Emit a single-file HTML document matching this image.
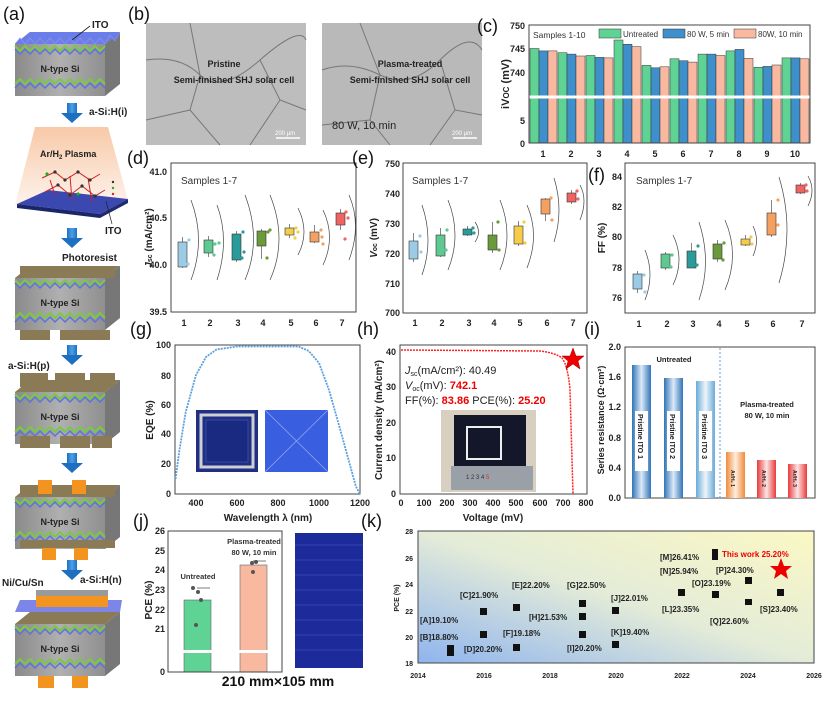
<!DOCTYPE html>
<html><head><meta charset="utf-8"><style>
html,body{margin:0;padding:0;background:#fff}
svg{display:block;font-family:"Liberation Sans",Arial,sans-serif}
.t{font-size:9px;font-weight:bold;fill:#222}
.pl{font-size:18px;fill:#111}
.ax{fill:none;stroke:#444;stroke-width:1}
</style></head><body>
<svg width="829" height="705" viewBox="0 0 829 705" xmlns="http://www.w3.org/2000/svg">
<defs>
<linearGradient id="plas" x1="0" y1="0" x2="0" y2="1"><stop offset="0" stop-color="#f8c9a8"/><stop offset="1" stop-color="#fdf3ec"/></linearGradient>
<linearGradient id="kbg" x1="0" y1="1" x2="1" y2="0"><stop offset="0" stop-color="#8fb4ee"/><stop offset="0.5" stop-color="#e4ecd8"/><stop offset="1" stop-color="#fbf8c4"/></linearGradient>
<linearGradient id="gray" x1="0" y1="0" x2="1" y2="0"><stop offset="0" stop-color="#8a8a8a"/><stop offset="0.5" stop-color="#b0b0b0"/><stop offset="1" stop-color="#8f8f8f"/></linearGradient>
<linearGradient id="bb" x1="0" y1="0" x2="1" y2="0"><stop offset="0" stop-color="#2f74b8"/><stop offset=".5" stop-color="#ddeaf7"/><stop offset="1" stop-color="#2f74b8"/></linearGradient>
<linearGradient id="bl" x1="0" y1="0" x2="1" y2="0"><stop offset="0" stop-color="#6aaad8"/><stop offset=".5" stop-color="#eef5fb"/><stop offset="1" stop-color="#6aaad8"/></linearGradient>
<linearGradient id="bo" x1="0" y1="0" x2="1" y2="0"><stop offset="0" stop-color="#f08a3a"/><stop offset=".5" stop-color="#fdeee0"/><stop offset="1" stop-color="#f08a3a"/></linearGradient>
<linearGradient id="br" x1="0" y1="0" x2="1" y2="0"><stop offset="0" stop-color="#e83a3a"/><stop offset=".5" stop-color="#fde5e5"/><stop offset="1" stop-color="#e83a3a"/></linearGradient>
<linearGradient id="arr" x1="0" y1="0" x2="1" y2="0"><stop offset="0" stop-color="#1f6fc0"/><stop offset=".5" stop-color="#4aa0e8"/><stop offset="1" stop-color="#1f6fc0"/></linearGradient>
<g id="blk">
<polygon points="15,12 105,12 120,0 30,0" fill="#8a7a55"/>
<rect x="15" y="12" width="90" height="52" fill="url(#gray)"/>
<polygon points="105,12 120,0 120,52 105,64" fill="#777"/>
<polyline points="15,14 20,19 25,14 30,19 35,14 40,19 45,14 50,19 55,14 60,19 65,14 70,19 75,14 80,19 85,14 90,19 95,14 100,19 105,14" fill="none" stroke="#7ac943" stroke-width="2"/>
<polyline points="15,17 20,22 25,17 30,22 35,17 40,22 45,17 50,22 55,17 60,22 65,17 70,22 75,17 80,22 85,17 90,22 95,17 100,22 105,17" fill="none" stroke="#6070e0" stroke-width="1.5"/>
<polyline points="15,52 20,47 25,52 30,47 35,52 40,47 45,52 50,47 55,52 60,47 65,52 70,47 75,52 80,47 85,52 90,47 95,52 100,47 105,52" fill="none" stroke="#7ac943" stroke-width="2"/>
<polyline points="15,56 20,51 25,56 30,51 35,56 40,51 45,56 50,51 55,56 60,51 65,56 70,51 75,56 80,51 85,56 90,51 95,56 100,51 105,56" fill="none" stroke="#6070e0" stroke-width="1.5"/>
<text x="60" y="40" text-anchor="middle" class="t" style="font-size:9px">N-type Si</text>
</g>
<g id="dn"><rect x="67" y="0" width="10" height="10" fill="url(#arr)"/><polygon points="61,10 83,10 72,20" fill="#1f6fc0"/></g>
</defs>

<!-- (a) -->
<text x="3" y="20" class="pl">(a)</text>
<use href="#blk" transform="translate(0,32)"/>
<polygon points="15,44 105,44 120,32 30,32" fill="#6b7de8"/>
<polyline points="15,44 20,38 25,44 30,38 35,44 40,38 45,44 50,38 55,44 60,38 65,44 70,38 75,44 80,38 85,44 90,38 95,44 100,38 105,44 110,35 115,41 120,32" fill="#6b7de8" stroke="#8a96f0" stroke-width=".6"/>
<text x="92" y="28" class="t" style="font-size:10px">ITO</text>
<line x1="90" y1="26" x2="72" y2="40" stroke="#222" stroke-width=".8"/>
<text x="89" y="115" class="t" style="font-size:10px">a-Si:H(i)</text>
<use href="#dn" transform="translate(0,103)"/>
<polygon points="35,127 108,127 128,200 15,205" fill="url(#plas)"/>
<text x="40" y="157" class="t">Ar/H<tspan font-size="6" dy="2">2</tspan><tspan dy="-2">  Plasma</tspan></text>
<polygon points="17,204 48,190 128,199 100,214" fill="#3a48b0"/>
<polygon points="17,204 100,214 100,218 17,208" fill="#1a256a"/>
<polygon points="100,214 128,199 128,203 100,218" fill="#222a70"/>
<g stroke="#c22" stroke-width="1" fill="none"><path d="M42,178 L55,172 L65,180 L78,172 L90,180 L100,174 M45,192 L58,185 L70,195 L82,186 L95,196 L105,190 M50,180 L55,195 M70,176 L72,200 M88,178 L92,202"/></g>
<g fill="#333"><circle cx="55" cy="172" r="1.6"/><circle cx="78" cy="172" r="1.6"/><circle cx="65" cy="180" r="1.6"/><circle cx="90" cy="180" r="1.6"/><circle cx="58" cy="185" r="1.6"/><circle cx="82" cy="186" r="1.6"/><circle cx="70" cy="195" r="1.6"/><circle cx="95" cy="196" r="1.6"/></g>
<circle cx="47" cy="174" r="1.6" fill="#2a2"/><circle cx="78" cy="194" r="1.6" fill="#2a2"/>
<circle cx="113" cy="182" r="1.2" fill="#333"/><circle cx="113" cy="188" r="1.2" fill="#2a2"/><circle cx="113" cy="194" r="1.2" fill="#d22"/>
<line x1="106" y1="201" x2="112" y2="224" stroke="#222" stroke-width=".7"/>
<text x="105" y="234" class="t" style="font-size:10px">ITO</text>
<use href="#dn" transform="translate(0,228)"/>
<text x="62" y="261" class="t" style="font-size:10px">Photoresist</text>
<use href="#blk" transform="translate(0,266)"/>
<rect x="20" y="266" width="30" height="12" fill="#8a7a55"/><rect x="55" y="266" width="30" height="12" fill="#8a7a55"/><rect x="90" y="266" width="25" height="12" fill="#8a7a55"/>
<rect x="20" y="330" width="30" height="10" fill="#8a7a55"/><rect x="60" y="330" width="30" height="10" fill="#8a7a55"/><rect x="90" y="330" width="20" height="10" fill="#8a7a55"/>
<use href="#dn" transform="translate(0,345)"/>
<text x="8" y="369" class="t" style="font-size:10px">a-Si:H(p)</text>
<use href="#blk" transform="translate(0,380)"/>
<rect x="20" y="373" width="28" height="14" fill="#8a7a55"/><rect x="55" y="373" width="30" height="14" fill="#8a7a55"/><rect x="90" y="373" width="25" height="14" fill="#8a7a55"/>
<rect x="20" y="436" width="30" height="12" fill="#8a7a55"/><rect x="60" y="436" width="30" height="12" fill="#8a7a55"/><rect x="92" y="436" width="20" height="12" fill="#8a7a55"/>
<use href="#dn" transform="translate(0,453)"/>
<use href="#blk" transform="translate(0,485)"/>
<rect x="20" y="485" width="95" height="12" fill="#8a7a55"/>
<rect x="38" y="480" width="14" height="14" fill="#f39320"/><rect x="72" y="480" width="14" height="14" fill="#f39320"/>
<rect x="20" y="540" width="95" height="8" fill="#8a7a55"/>
<rect x="42" y="548" width="14" height="12" fill="#f39320"/><rect x="74" y="548" width="14" height="12" fill="#f39320"/>
<text x="2" y="586" class="t" style="font-size:10px">Ni/Cu/Sn</text>
<text x="80" y="583" class="t" style="font-size:10px">a-Si:H(n)</text>
<use href="#dn" transform="translate(0,560)"/>
<use href="#blk" transform="translate(0,612)"/>
<polygon points="15,612 120,612 122,600 20,600" fill="#7b86e8"/>
<rect x="36" y="596" width="48" height="11" fill="#f39320"/><rect x="70" y="596" width="38" height="11" fill="#f39320"/>
<rect x="36" y="590" width="48" height="6" fill="#9a9a9a"/><rect x="70" y="590" width="38" height="6" fill="#9a9a9a"/>
<rect x="38" y="676" width="16" height="12" fill="#f39320"/><rect x="72" y="676" width="16" height="12" fill="#f39320"/>

<!-- (b) -->
<text x="128" y="20" class="pl">(b)</text>
<rect x="146" y="23" width="160" height="122" fill="#bdbdbd"/>
<rect x="322" y="23" width="160" height="122" fill="#b9b9b9"/>
<g fill="none" stroke="#777" stroke-width="1">
<path d="M146,60 Q180,55 200,75 T260,60 T306,40 M190,23 L200,75 L190,110 L220,145 M260,60 L280,100 L306,110 M190,110 L146,120 M280,100 L250,145"/>
<path d="M322,70 Q350,60 380,75 T440,60 T482,50 M360,23 L380,75 L370,120 L390,145 M440,60 L455,110 L482,115 M370,120 L322,125 M455,110 L430,145"/>
</g>
<text x="224" y="67" text-anchor="middle" class="t">Pristine</text>
<text x="234" y="83" text-anchor="middle" class="t">Semi-finished SHJ solar cell</text>
<text x="410" y="67" text-anchor="middle" class="t">Plasma-treated</text>
<text x="410" y="83" text-anchor="middle" class="t">Semi-finished SHJ solar cell</text>
<text x="332" y="129" style="font-size:11px" fill="#222">80 W, 10 min</text>
<line x1="276" y1="138" x2="300" y2="138" stroke="#fff" stroke-width="1.5"/><text x="275" y="135" style="font-size:6px" fill="#fff">200 μm</text>
<line x1="453" y1="138" x2="477" y2="138" stroke="#fff" stroke-width="1.5"/><text x="452" y="135" style="font-size:6px" fill="#fff">200 μm</text>

<!-- (c) -->
<text x="477" y="32" class="pl">(c)</text>
<g stroke="#333" stroke-width=".5">
<g fill="#5fd393">
<rect x="530" y="48.5" width="9" height="94.5"/><rect x="558" y="52.7" width="9" height="90.3"/><rect x="586" y="55.5" width="9" height="87.5"/><rect x="614" y="40" width="9" height="103"/><rect x="642" y="65.4" width="9" height="77.6"/><rect x="670" y="58.8" width="9" height="84.2"/><rect x="698" y="54.1" width="9" height="88.9"/><rect x="726" y="50.9" width="9" height="92.1"/><rect x="754" y="67.3" width="9" height="75.7"/><rect x="782" y="57.9" width="9" height="85.1"/>
</g>
<g fill="#3f8fcb">
<rect x="539" y="50.9" width="9" height="92.1"/><rect x="567" y="54.1" width="9" height="88.9"/><rect x="595" y="57.4" width="9" height="85.6"/><rect x="623" y="44.3" width="9" height="98.7"/><rect x="651" y="67.8" width="9" height="75.2"/><rect x="679" y="60.7" width="9" height="82.3"/><rect x="707" y="54.1" width="9" height="88.9"/><rect x="735" y="49.4" width="9" height="93.6"/><rect x="763" y="66.4" width="9" height="76.6"/><rect x="791" y="57.9" width="9" height="85.1"/>
</g>
<g fill="#f8b9a0">
<rect x="548" y="50.9" width="9" height="92.1"/><rect x="576" y="56" width="9" height="87"/><rect x="604" y="57.9" width="9" height="85.1"/><rect x="632" y="46.6" width="9" height="96.4"/><rect x="660" y="66.8" width="9" height="76.2"/><rect x="688" y="62.1" width="9" height="80.9"/><rect x="716" y="55.5" width="9" height="87.5"/><rect x="744" y="58.4" width="9" height="84.6"/><rect x="772" y="65" width="9" height="78"/><rect x="800" y="58.8" width="9" height="84.2"/>
</g></g>
<rect x="529" y="95.5" width="281" height="3" fill="#fff"/>
<rect x="529" y="25" width="281" height="118" class="ax"/>
<g class="t" text-anchor="end"><text x="525" y="29">750</text><text x="525" y="52">745</text><text x="525" y="76">740</text><text x="525" y="124">5</text><text x="525" y="147">0</text></g>
<g class="t" text-anchor="middle"><text x="543" y="157">1</text><text x="571" y="157">2</text><text x="599" y="157">3</text><text x="627" y="157">4</text><text x="655" y="157">5</text><text x="683" y="157">6</text><text x="711" y="157">7</text><text x="739" y="157">8</text><text x="767" y="157">9</text><text x="795" y="157">10</text></g>
<text transform="translate(509,84) rotate(-90)" text-anchor="middle" style="font-size:11px;font-weight:bold" fill="#222">iV<tspan font-size="8">OC</tspan> (mV)</text>
<text x="533" y="38" style="font-size:8.5px" fill="#333">Samples 1-10</text>
<rect x="599" y="29" width="22" height="9" fill="#5fd393" stroke="#333" stroke-width=".5"/><text x="623" y="37" style="font-size:8px" fill="#333">Untreated</text>
<rect x="663" y="29" width="22" height="9" fill="#3f8fcb" stroke="#333" stroke-width=".5"/><text x="687" y="37" style="font-size:8px" fill="#333">80 W, 5 min</text>
<rect x="734" y="29" width="22" height="9" fill="#f8b9a0" stroke="#333" stroke-width=".5"/><text x="758" y="37" style="font-size:8px" fill="#333">80W, 10 min</text>

<!-- (d) -->
<text x="127" y="164" class="pl">(d)</text>
<rect x="171" y="163" width="185" height="149" class="ax"/>
<text x="181" y="184" style="font-size:10px" fill="#333">Samples 1-7</text>
<g class="t" text-anchor="end"><text x="167" y="175">41.0</text><text x="167" y="221">40.5</text><text x="167" y="268">40.0</text><text x="167" y="315">39.5</text></g>
<g class="t" text-anchor="middle"><text x="184" y="326">1</text><text x="210" y="326">2</text><text x="238" y="326">3</text><text x="263" y="326">4</text><text x="291" y="326">5</text><text x="316" y="326">6</text><text x="342" y="326">7</text></g>
<text transform="translate(152,238) rotate(-90)" text-anchor="middle" style="font-size:10px;font-weight:bold" fill="#222"><tspan font-style="italic">J</tspan><tspan font-size="7">sc</tspan> (mA/cm²)</text>
<g stroke="#333" stroke-width=".6">
<line x1="182.5" y1="237" x2="182.5" y2="268"/><line x1="208.5" y1="236" x2="208.5" y2="257"/><line x1="236.5" y1="231" x2="236.5" y2="262"/><line x1="261.5" y1="229" x2="261.5" y2="259"/><line x1="289.5" y1="224" x2="289.5" y2="238"/><line x1="314.5" y1="225" x2="314.5" y2="243"/><line x1="340.5" y1="209" x2="340.5" y2="230"/>
<rect x="178" y="242" width="9" height="25" fill="#9ccbe6"/><rect x="204" y="240" width="9" height="13" fill="#5fc991"/><rect x="232" y="234" width="9" height="26" fill="#2b9a9a"/><rect x="257" y="231" width="9" height="15" fill="#6a9a3a"/><rect x="285" y="228" width="9" height="7" fill="#f6cd4a"/><rect x="310" y="232" width="9" height="10" fill="#f4a060"/><rect x="336" y="213" width="9" height="12" fill="#ef6363"/>
</g>
<g fill="none" stroke="#444" stroke-width=".7">
<path d="M191,200 Q206,240 191,280"/><path d="M217,205 Q230,240 217,280"/><path d="M245,195 Q262,240 245,280"/><path d="M270,195 Q288,240 270,280"/><path d="M298,208 Q310,232 298,255"/><path d="M323,210 Q336,237 323,265"/><path d="M349,195 Q362,225 349,260"/>
</g>
<g fill="#9ccbe6"><circle cx="189" cy="240" r="1.6"/><circle cx="188" cy="264" r="1.6"/></g>
<g fill="#5fc991"><circle cx="215" cy="244" r="1.6"/><circle cx="214" cy="255" r="1.6"/><circle cx="219" cy="243" r="1.6"/></g>
<g fill="#2b9a9a"><circle cx="243" cy="232" r="1.6"/><circle cx="242" cy="258" r="1.6"/><circle cx="244" cy="252" r="1.6"/></g>
<g fill="#6a9a3a"><circle cx="268" cy="232" r="1.6"/><circle cx="270" cy="230" r="1.6"/><circle cx="267" cy="258" r="1.6"/></g>
<g fill="#f6cd4a"><circle cx="296" cy="228" r="1.6"/><circle cx="298" cy="232" r="1.6"/><circle cx="295" cy="238" r="1.6"/></g>
<g fill="#f4a060"><circle cx="321" cy="230" r="1.6"/><circle cx="322" cy="237" r="1.6"/><circle cx="323" cy="244" r="1.6"/></g>
<g fill="#ef6363"><circle cx="346" cy="212" r="1.6"/><circle cx="348" cy="218" r="1.6"/><circle cx="345" cy="239" r="1.6"/></g>

<!-- (e) -->
<text x="352" y="164" class="pl">(e)</text>
<rect x="403" y="163" width="184" height="150" class="ax"/>
<text x="412" y="184" style="font-size:10px" fill="#333">Samples 1-7</text>
<g class="t" text-anchor="end"><text x="400" y="167">750</text><text x="400" y="197">740</text><text x="400" y="227">730</text><text x="400" y="257">720</text><text x="400" y="287">710</text><text x="400" y="316">700</text></g>
<g class="t" text-anchor="middle"><text x="415" y="326">1</text><text x="442" y="326">2</text><text x="469" y="326">3</text><text x="494" y="326">4</text><text x="520" y="326">5</text><text x="547" y="326">6</text><text x="573" y="326">7</text></g>
<text transform="translate(377,238) rotate(-90)" text-anchor="middle" style="font-size:10px;font-weight:bold" fill="#222"><tspan font-style="italic">V</tspan><tspan font-size="7">oc</tspan> (mV)</text>
<g stroke="#333" stroke-width=".6">
<line x1="413.5" y1="233" x2="413.5" y2="262"/><line x1="440.5" y1="228" x2="440.5" y2="257"/><line x1="467.5" y1="226" x2="467.5" y2="236"/><line x1="492.5" y1="222" x2="492.5" y2="253"/><line x1="518.5" y1="221" x2="518.5" y2="246"/><line x1="545.5" y1="198" x2="545.5" y2="221"/><line x1="571.5" y1="190" x2="571.5" y2="204"/>
<rect x="409" y="241" width="9" height="18" fill="#9ccbe6"/><rect x="436" y="235" width="9" height="21" fill="#5fc991"/><rect x="463" y="229" width="9" height="6" fill="#2b9a9a"/><rect x="488" y="235" width="9" height="15" fill="#6a9a3a"/><rect x="514" y="226" width="9" height="18" fill="#f6cd4a"/><rect x="541" y="199" width="9" height="15" fill="#f4a060"/><rect x="567" y="193" width="9" height="9" fill="#ef6363"/>
</g>
<g fill="none" stroke="#444" stroke-width=".7">
<path d="M422,205 Q434,240 422,275"/><path d="M448,200 Q462,235 448,270"/><path d="M475,222 Q482,232 475,242"/><path d="M500,200 Q514,235 500,270"/><path d="M527,205 Q540,235 527,268"/><path d="M554,178 Q564,210 554,242"/><path d="M580,185 Q588,200 580,220"/>
</g>
<g fill="#9ccbe6"><circle cx="420" cy="236" r="1.6"/><circle cx="421" cy="252" r="1.6"/></g>
<g fill="#5fc991"><circle cx="447" cy="230" r="1.6"/><circle cx="446" cy="250" r="1.6"/></g>
<g fill="#2b9a9a"><circle cx="473" cy="228" r="1.6"/><circle cx="474" cy="233" r="1.6"/></g>
<g fill="#6a9a3a"><circle cx="498" cy="222" r="1.6"/><circle cx="499" cy="250" r="1.6"/></g>
<g fill="#f6cd4a"><circle cx="524" cy="222" r="1.6"/><circle cx="525" cy="243" r="1.6"/></g>
<g fill="#f4a060"><circle cx="551" cy="198" r="1.6"/><circle cx="552" cy="220" r="1.6"/></g>
<g fill="#ef6363"><circle cx="577" cy="191" r="1.6"/><circle cx="578" cy="199" r="1.6"/></g>

<!-- (f) -->
<text x="588" y="181" class="pl">(f)</text>
<rect x="625" y="163" width="190" height="150" class="ax"/>
<text x="636" y="184" style="font-size:10px" fill="#333">Samples 1-7</text>
<g class="t" text-anchor="end"><text x="622" y="180">84</text><text x="622" y="210">82</text><text x="622" y="240">80</text><text x="622" y="271">78</text><text x="622" y="301">76</text></g>
<g class="t" text-anchor="middle"><text x="639" y="327">1</text><text x="667" y="327">2</text><text x="693" y="327">3</text><text x="719" y="327">4</text><text x="747" y="327">5</text><text x="773" y="327">6</text><text x="802" y="327">7</text></g>
<text transform="translate(605,238) rotate(-90)" text-anchor="middle" style="font-size:10px;font-weight:bold" fill="#222">FF (%)</text>
<g stroke="#333" stroke-width=".6">
<line x1="637.5" y1="271" x2="637.5" y2="293"/><line x1="665.5" y1="252" x2="665.5" y2="270"/><line x1="691.5" y1="243" x2="691.5" y2="268"/><line x1="717.5" y1="240" x2="717.5" y2="262"/><line x1="745.5" y1="235" x2="745.5" y2="246"/><line x1="771.5" y1="200" x2="771.5" y2="237"/><line x1="800.5" y1="183" x2="800.5" y2="194"/>
<rect x="633" y="274" width="9" height="15" fill="#9ccbe6"/><rect x="661" y="254" width="9" height="14" fill="#5fc991"/><rect x="687" y="251" width="9" height="17" fill="#2b9a9a"/><rect x="713" y="244" width="9" height="15" fill="#6a9a3a"/><rect x="741" y="239" width="9" height="6" fill="#f6cd4a"/><rect x="767" y="213" width="9" height="22" fill="#f4a060"/><rect x="796" y="185" width="9" height="8" fill="#ef6363"/>
</g>
<g fill="none" stroke="#444" stroke-width=".7">
<path d="M645,250 Q655,275 645,300"/><path d="M673,235 Q685,260 673,285"/><path d="M699,222 Q712,262 699,300"/><path d="M725,220 Q740,255 725,290"/><path d="M753,226 Q760,240 753,256"/><path d="M779,177 Q795,230 779,283"/><path d="M808,176 Q816,190 808,206"/>
</g>
<g fill="#9ccbe6"><circle cx="644" cy="275" r="1.6"/><circle cx="645" cy="292" r="1.6"/></g>
<g fill="#5fc991"><circle cx="672" cy="255" r="1.6"/><circle cx="671" cy="267" r="1.6"/></g>
<g fill="#2b9a9a"><circle cx="698" cy="246" r="1.6"/><circle cx="697" cy="265" r="1.6"/></g>
<g fill="#6a9a3a"><circle cx="724" cy="243" r="1.6"/><circle cx="723" cy="260" r="1.6"/></g>
<g fill="#f6cd4a"><circle cx="751" cy="237" r="1.6"/><circle cx="752" cy="244" r="1.6"/></g>
<g fill="#f4a060"><circle cx="778" cy="200" r="1.6"/><circle cx="778" cy="225" r="1.6"/></g>
<g fill="#ef6363"><circle cx="806" cy="185" r="1.6"/><circle cx="807" cy="191" r="1.6"/></g>

<!-- (g) -->
<text x="130" y="335" class="pl">(g)</text>
<rect x="175" y="345" width="185" height="149" class="ax"/>
<g class="t" text-anchor="end"><text x="171" y="348">100</text><text x="171" y="379">80</text><text x="171" y="408">60</text><text x="171" y="437">40</text><text x="171" y="467">20</text><text x="171" y="497">0</text></g>
<g class="t" text-anchor="middle"><text x="196" y="506">400</text><text x="237" y="506">600</text><text x="278" y="506">800</text><text x="319" y="506">1000</text><text x="360" y="506">1200</text></g>
<text x="268" y="521" text-anchor="middle" style="font-size:10px;font-weight:bold" fill="#222">Wavelength λ (nm)</text>
<text transform="translate(153,420) rotate(-90)" text-anchor="middle" style="font-size:10px;font-weight:bold" fill="#222">EQE (%)</text>
<polyline points="175.5,479 179.6,449 185.7,412 196,375 206,357 216.5,349.5 237,346.5 298.5,346.5 308.8,351 319,363 329,390 339.5,427 349.7,464 355.9,486.5 360,494" fill="none" stroke="#5aa0dc" stroke-width="1.8" stroke-dasharray="2 1"/>
<rect x="196" y="410" width="62" height="62" fill="#1f2f85"/><rect x="201" y="415" width="52" height="52" fill="none" stroke="#cfcfcf" stroke-width="3"/><rect x="206" y="420" width="42" height="42" fill="#1a2a80" stroke="#5066c0" stroke-width=".5"/>
<rect x="265" y="410" width="63" height="62" fill="#3a5ee0"/>
<path d="M265,410 L328,472 M328,410 L265,472" stroke="#8fa8f5" stroke-width=".8"/>

<!-- (h) -->
<text x="357" y="335" class="pl">(h)</text>
<rect x="400" y="345" width="187" height="149" class="ax"/>
<g class="t" text-anchor="end"><text x="396" y="355">40</text><text x="396" y="390">30</text><text x="396" y="426">20</text><text x="396" y="461">10</text><text x="396" y="497">0</text></g>
<g class="t" text-anchor="middle"><text x="401" y="506">0</text><text x="424" y="506">100</text><text x="447" y="506">200</text><text x="470" y="506">300</text><text x="493" y="506">400</text><text x="516" y="506">500</text><text x="540" y="506">600</text><text x="563" y="506">700</text><text x="586" y="506">800</text></g>
<text x="493" y="521" text-anchor="middle" style="font-size:10px;font-weight:bold" fill="#222">Voltage (mV)</text>
<text transform="translate(382,420) rotate(-90)" text-anchor="middle" style="font-size:10px;font-weight:bold" fill="#222">Current density (mA/cm²)</text>
<path d="M401,350 L540,351 Q556,353 562,358 Q568,366 570,390 L573,494" fill="none" stroke="#f22" stroke-width="1.5" stroke-dasharray="2 1"/>
<polygon points="573,348 576,356 584,356 578,361 580,369 573,364 566,369 568,361 562,356 570,356" fill="#e00" stroke="#900" stroke-width=".5"/>
<text x="405" y="374" style="font-size:11px" fill="#222"><tspan font-style="italic">J</tspan><tspan font-size="7" dy="2">sc</tspan><tspan dy="-2">(mA/cm²): 40.49</tspan></text>
<text x="405" y="389" style="font-size:11px" fill="#222"><tspan font-style="italic">V</tspan><tspan font-size="7" dy="2">oc</tspan><tspan dy="-2">(mV): </tspan><tspan fill="#e00" font-weight="bold">742.1</tspan></text>
<text x="405" y="404" style="font-size:11px" fill="#222">FF(%): <tspan fill="#e00" font-weight="bold">83.86</tspan> PCE(%): <tspan fill="#e00" font-weight="bold">25.20</tspan></text>
<rect x="441" y="410" width="95" height="82" fill="#d8cfc0"/><rect x="454" y="415" width="72" height="55" fill="#14162a"/><rect x="467" y="427" width="34" height="32" fill="none" stroke="#eee" stroke-width="2"/>
<rect x="451" y="466" width="82" height="24" fill="#9aa0a8"/>
<text x="466" y="479" style="font-size:6px" fill="#333">1  2  3  4  <tspan fill="#c33">5</tspan></text>

<!-- (i) -->
<text x="584" y="335" class="pl">(i)</text>
<rect x="625" y="347" width="190" height="151" class="ax"/>
<g class="t" text-anchor="end"><text x="621" y="350">2.0</text><text x="621" y="380">1.6</text><text x="621" y="410">1.2</text><text x="621" y="441">0.8</text><text x="621" y="471">0.4</text><text x="621" y="501">0.0</text></g>
<text transform="translate(604,420) rotate(-90)" text-anchor="middle" style="font-size:9px;font-weight:bold" fill="#222">Series resistance (Ω·cm²)</text>
<rect x="632" y="365" width="19" height="133" fill="url(#bb)"/><rect x="664" y="378" width="19" height="120" fill="url(#bb)"/><rect x="696" y="381" width="19" height="117" fill="url(#bl)"/>
<rect x="726" y="452" width="19" height="46" fill="url(#bo)"/><rect x="757" y="460" width="19" height="38" fill="url(#br)"/><rect x="788" y="464" width="19" height="34" fill="url(#br)"/>
<rect x="635" y="411" width="13" height="60" fill="#fff"/><rect x="667" y="411" width="13" height="60" fill="#fff"/><rect x="699" y="411" width="13" height="60" fill="#fff"/>
<g style="font-size:7px;font-weight:bold" fill="#222">
<text transform="translate(638,414) rotate(90)">Pristine ITO 1</text><text transform="translate(670,414) rotate(90)">Pristine ITO 2</text><text transform="translate(702,414) rotate(90)">Pristine ITO 3</text>
<text transform="translate(731,470) rotate(90)" style="font-size:5px">Ar/H₂ 1</text><text transform="translate(762,470) rotate(90)" style="font-size:5px">Ar/H₂ 2</text><text transform="translate(793,470) rotate(90)" style="font-size:5px">Ar/H₂ 3</text>
</g>
<line x1="720" y1="348" x2="720" y2="498" stroke="#6a9ad8" stroke-dasharray="2 2"/>
<text x="674" y="362" text-anchor="middle" style="font-size:7.5px;font-weight:bold" fill="#222">Untreated</text>
<text x="767" y="407" text-anchor="middle" style="font-size:7.5px;font-weight:bold" fill="#222">Plasma-treated</text>
<text x="767" y="418" text-anchor="middle" style="font-size:7.5px;font-weight:bold" fill="#222">80 W, 10 min</text>

<!-- (j) -->
<text x="133" y="527" class="pl">(j)</text>
<rect x="184" y="600" width="27" height="72" fill="#5fd393" stroke="#666" stroke-width=".6"/>
<rect x="240" y="565" width="27" height="107" fill="#f8b9a0" stroke="#666" stroke-width=".6"/>
<rect x="168" y="650" width="114" height="3" fill="#fff"/>
<rect x="168" y="531" width="114" height="141" class="ax"/>
<g class="t" text-anchor="end"><text x="165" y="534">26</text><text x="165" y="554">25</text><text x="165" y="573">24</text><text x="165" y="593">23</text><text x="165" y="613">22</text><text x="165" y="632">21</text><text x="165" y="675">0</text></g>
<text transform="translate(152,600) rotate(-90)" text-anchor="middle" style="font-size:10px;font-weight:bold" fill="#222">PCE (%)</text>
<g fill="#555"><circle cx="193" cy="588" r="2"/><circle cx="198" cy="592" r="2"/><circle cx="201" cy="600" r="2"/><circle cx="196" cy="625" r="2"/><circle cx="252" cy="563" r="2"/><circle cx="256" cy="562" r="2"/><circle cx="253" cy="572" r="2"/></g>
<line x1="197" y1="588" x2="210" y2="588" stroke="#444" stroke-width=".7"/><line x1="253" y1="561" x2="266" y2="561" stroke="#444" stroke-width=".7"/>
<text x="198" y="579" text-anchor="middle" style="font-size:7.5px;font-weight:bold" fill="#333">Untreated</text>
<text x="254" y="544" text-anchor="middle" style="font-size:7.5px;font-weight:bold" fill="#333">Plasma-treated</text>
<text x="254" y="555" text-anchor="middle" style="font-size:7.5px;font-weight:bold" fill="#333">80 W, 10 min</text>
<rect x="295" y="533" width="68" height="135" fill="#1c2a9a"/>
<g stroke="#4a5cc8" stroke-width=".5"><line x1="295" y1="545" x2="363" y2="545"/><line x1="295" y1="560" x2="363" y2="560"/><line x1="295" y1="575" x2="363" y2="575"/><line x1="295" y1="590" x2="363" y2="590"/><line x1="295" y1="605" x2="363" y2="605"/><line x1="295" y1="620" x2="363" y2="620"/><line x1="295" y1="635" x2="363" y2="635"/><line x1="295" y1="650" x2="363" y2="650"/></g>
<text x="278" y="686" text-anchor="middle" style="font-size:14px;font-weight:bold" fill="#111">210 mm×105 mm</text>

<!-- (k) -->
<text x="361" y="527" class="pl">(k)</text>
<rect x="418" y="531" width="396" height="132" fill="url(#kbg)" stroke="#444"/>
<g class="t" text-anchor="end" style="font-size:7px"><text x="413" y="534">28</text><text x="413" y="561">26</text><text x="413" y="587">24</text><text x="413" y="614">22</text><text x="413" y="640">20</text><text x="413" y="666">18</text></g>
<g class="t" text-anchor="middle" style="font-size:7px"><text x="418" y="678">2014</text><text x="484" y="678">2016</text><text x="550" y="678">2018</text><text x="616" y="678">2020</text><text x="682" y="678">2022</text><text x="748" y="678">2024</text><text x="814" y="678">2026</text></g>
<text transform="translate(399,598) rotate(-90)" text-anchor="middle" style="font-size:7px;font-weight:bold" fill="#222">PCE (%)</text>
<g fill="#111">
<rect x="447" y="645" width="7" height="11"/><rect x="480" y="608" width="7" height="7"/><rect x="480" y="631" width="7" height="7"/><rect x="513" y="604" width="7" height="7"/><rect x="513" y="644" width="7" height="7"/>
<rect x="579" y="600" width="7" height="7"/><rect x="579" y="613" width="7" height="7"/><rect x="579" y="631" width="7" height="7"/><rect x="612" y="607" width="7" height="7"/><rect x="612" y="641" width="7" height="7"/>
<rect x="678" y="589" width="7" height="7"/><rect x="712" y="549" width="6" height="11"/><rect x="712" y="591" width="7" height="7"/><rect x="745" y="577" width="7" height="7"/><rect x="745" y="599" width="7" height="6"/><rect x="777" y="589" width="7" height="7"/>
</g>
<polygon points="781,558 784,566 792,566 786,571 788,579 781,574 774,579 776,571 770,566 778,566" fill="#e00"/>
<g class="t" style="font-size:8px">
<text x="420" y="623">[A]19.10%</text><text x="420" y="640">[B]18.80%</text><text x="460" y="598">[C]21.90%</text><text x="464" y="652">[D]20.20%</text><text x="512" y="588">[E]22.20%</text><text x="503" y="636">[F]19.18%</text><text x="567" y="588">[G]22.50%</text><text x="529" y="620">[H]21.53%</text><text x="567" y="651">[I]20.20%</text><text x="611" y="601">[J]22.01%</text><text x="611" y="635">[K]19.40%</text><text x="662" y="612">[L]23.35%</text><text x="660" y="560">[M]26.41%</text><text x="660" y="574">[N]25.94%</text><text x="692" y="586">[O]23.19%</text><text x="716" y="573">[P]24.30%</text><text x="710" y="624">[Q]22.60%</text><text x="760" y="612">[S]23.40%</text>
<text x="722" y="557" fill="#e00">This work 25.20%</text>
</g>
</svg>
</body></html>
